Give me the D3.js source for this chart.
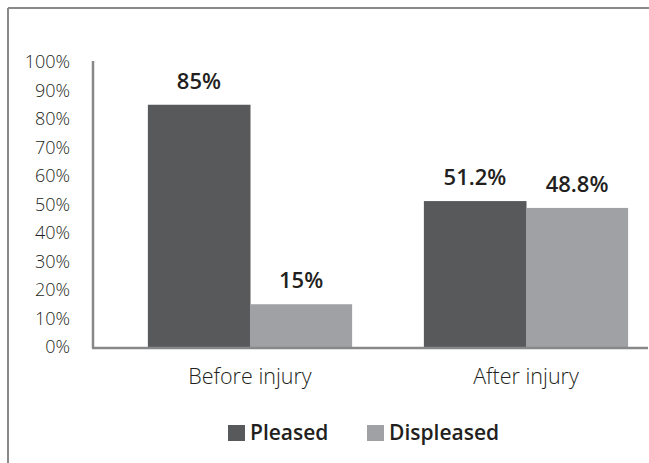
<!DOCTYPE html>
<html><head><meta charset="utf-8">
<script src="https://cdn.jsdelivr.net/npm/d3@7"></script>
<style>
html,body{margin:0;padding:0;background:#fff;}
svg{display:block;}
text{font-family:"Open Sans",Lato,sans-serif;}
</style></head>
<body>
<script>
const categories = ["Before injury", "After injury"];
const seriesNames = ["Pleased", "Displeased"];
const pleased = [85, 51.2];
const displeased = [15, 48.8];
const valueLabels = [["85%", "51.2%"], ["15%", "48.8%"]];
const yTicks = [0, 10, 20, 30, 40, 50, 60, 70, 80, 90, 100];
const colors = ["#58595b", "#a0a1a4"];
const FONT = "'Open Sans', Lato, sans-serif";

const W = 649, H = 463;
const svg = d3.select("body").append("svg").attr("width", W).attr("height", H);

// frame (top and left)
svg.append("line").attr("x1", 8).attr("x2", W).attr("y1", 8).attr("y2", 8)
  .attr("stroke", "#8a8a8a").attr("stroke-width", 2);
svg.append("line").attr("x1", 8).attr("x2", 8).attr("y1", 8).attr("y2", H)
  .attr("stroke", "#8a8a8a").attr("stroke-width", 2);

const y = d3.scaleLinear().domain([0, 100]).range([347, 62]);
const x0 = d3.scaleBand().domain(categories).range([112, 664]).paddingInner(0.26).paddingOuter(0.13);
const x1 = d3.scaleBand().domain(seriesNames).range([0, x0.bandwidth()]);

const series = [pleased, displeased];

series.forEach((vals, si) => {
  svg.append("g").selectAll("rect").data(vals).join("rect")
    .attr("x", (d, i) => x0(categories[i]) + x1(seriesNames[si]))
    .attr("y", d => y(d))
    .attr("width", x1.bandwidth() + (si === 0 ? 0.5 : 0))
    .attr("height", d => y(0) - y(d))
    .attr("fill", colors[si]);
  svg.append("g").selectAll("text").data(vals).join("text")
    .attr("x", (d, i) => x0(categories[i]) + x1(seriesNames[si]) + x1.bandwidth() / 2)
    .attr("y", d => y(d) - 16)
    .attr("text-anchor", "middle")
    .attr("font-size", 22)
    .attr("font-weight", 600)
    .attr("fill", "#231f20")
    .text((d, i) => valueLabels[si][i]);
});

// y axis
const yAxis = d3.axisLeft(y).tickValues(yTicks).tickSize(0).tickPadding(23).tickFormat(d => d + "%");
const gy = svg.append("g").attr("transform", "translate(93,0)").call(yAxis);
gy.select(".domain").remove();
gy.selectAll("text").attr("font-size", 18).attr("font-weight", 300).attr("fill", "#231f20")
  .attr("font-family", FONT);
svg.append("line").attr("x1", 93).attr("x2", 93).attr("y1", 61).attr("y2", 348)
  .attr("stroke", "#87888a").attr("stroke-width", 2.5);

// x axis
const xAxis = d3.axisBottom(x0).tickSize(0).tickPadding(21);
const gx = svg.append("g").attr("transform", "translate(0,348)").call(xAxis);
gx.select(".domain").remove();
gx.selectAll("text").attr("font-size", 21.5).attr("font-weight", 300).attr("fill", "#231f20")
  .attr("font-family", FONT);
svg.append("line").attr("x1", 92).attr("x2", 648).attr("y1", 348).attr("y2", 348)
  .attr("stroke", "#87888a").attr("stroke-width", 2.5);

// legend
const legendX = [228, 367];
seriesNames.forEach((name, i) => {
  const g = svg.append("g").attr("transform", `translate(${legendX[i]},425)`);
  g.append("rect").attr("width", 17).attr("height", 16).attr("fill", colors[i]);
  g.append("text").attr("x", 22).attr("y", 14.5).attr("font-size", 21).attr("font-weight", 600)
    .attr("fill", "#231f20").text(name);
});
</script>
</body></html>
